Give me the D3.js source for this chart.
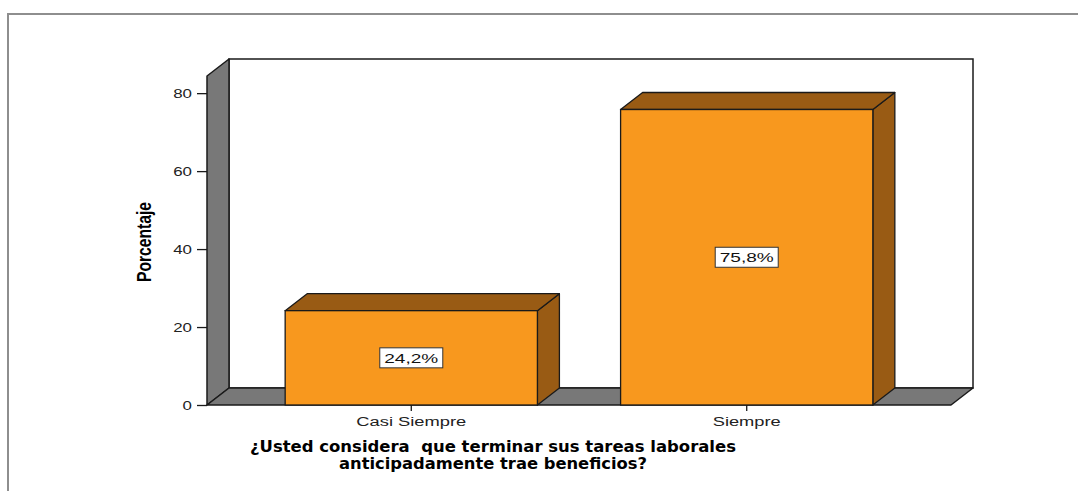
<!DOCTYPE html>
<html>
<head>
<meta charset="utf-8">
<script src="https://cdn.jsdelivr.net/npm/d3@7"></script>
<style>
  html, body { margin: 0; padding: 0; background: #fff; }
  svg { display: block; }
  .title-line { white-space: pre; }
</style>
</head>
<body>
<svg id="chart" width="1078" height="491"></svg>
<script>
// Response categories and their share of answers (%)
const categories = ["Casi Siempre", "Siempre"];
const percentages = [24.2, 75.8];
const valueLabels = ["24,2%", "75,8%"];
const yTicks = [0, 20, 40, 60, 80];
const yTitle = "Porcentaje";
const titleLines = [
  "¿Usted considera  que terminar sus tareas laborales",
  "anticipadamente trae beneficios?"
];

const svg = d3.select("#chart");

// Colours
const orange = "#F8981E";
const brown = "#995B14";
const wallGrey = "#787878";
const ink = "#1a1a1a";

// Plot geometry (front floor line and wall depth offset)
const x0 = 207, x1 = 951, yBase = 405, yTopFront = 76;
const dx = 22, dy = 17;

const y = d3.scaleLinear().domain([0, 84.4]).range([yBase, yTopFront]);
const x = d3.scaleBand()
  .domain(categories)
  .range([x0, x1])
  .paddingInner(0.248)
  .paddingOuter(0.233);

// Outer frame (top and left edges)
svg.append("path")
  .attr("d", `M8,491 L8,14 L1078,14`)
  .attr("fill", "none")
  .attr("stroke", "#8e8e8e")
  .attr("stroke-width", 2);

// Back wall
svg.append("rect")
  .attr("x", x0 + dx).attr("y", yTopFront - dy)
  .attr("width", x1 - x0).attr("height", yBase - yTopFront)
  .attr("fill", "#fff").attr("stroke", ink).attr("stroke-width", 1.5);

// Left wall
svg.append("polygon")
  .attr("points", [[x0, yBase], [x0, yTopFront], [x0 + dx, yTopFront - dy], [x0 + dx, yBase - dy]].join(" "))
  .attr("fill", wallGrey).attr("stroke", ink).attr("stroke-width", 1.5)
  .attr("stroke-linejoin", "round");

// Floor
svg.append("polygon")
  .attr("points", [[x0, yBase], [x1, yBase], [x1 + dx, yBase - dy], [x0 + dx, yBase - dy]].join(" "))
  .attr("fill", wallGrey).attr("stroke", ink).attr("stroke-width", 1.5)
  .attr("stroke-linejoin", "round");

// Bars as 3D boxes
const data = categories.map((c, i) => ({ cat: c, value: percentages[i], label: valueLabels[i] }));
const bars = svg.append("g").selectAll("g").data(data).join("g");

bars.append("polygon") // right side
  .attr("points", d => {
    const xr = x(d.cat) + x.bandwidth(), yt = y(d.value);
    return [[xr, yBase], [xr, yt], [xr + dx, yt - dy], [xr + dx, yBase - dy]].join(" ");
  })
  .attr("fill", brown).attr("stroke", ink).attr("stroke-width", 1.3).attr("stroke-linejoin", "round");

bars.append("polygon") // top
  .attr("points", d => {
    const xl = x(d.cat), xr = xl + x.bandwidth(), yt = y(d.value);
    return [[xl, yt], [xr, yt], [xr + dx, yt - dy], [xl + dx, yt - dy]].join(" ");
  })
  .attr("fill", brown).attr("stroke", ink).attr("stroke-width", 1.3).attr("stroke-linejoin", "round");

bars.append("rect") // front
  .attr("x", d => x(d.cat))
  .attr("y", d => y(d.value))
  .attr("width", x.bandwidth())
  .attr("height", d => yBase - y(d.value))
  .attr("fill", orange).attr("stroke", ink).attr("stroke-width", 1.3);

// Value labels in boxes at bar mid-height
const lbl = bars.append("g")
  .attr("transform", d => `translate(${x(d.cat) + x.bandwidth() / 2},${(y(d.value) + yBase) / 2})`);
lbl.append("rect")
  .attr("x", -31.5).attr("y", -10).attr("width", 63).attr("height", 20)
  .attr("fill", "#fff").attr("stroke", "#333").attr("stroke-width", 1);
lbl.append("text")
  .attr("text-anchor", "middle").attr("dy", "0.36em")
  .attr("font-family", "Liberation Sans, Arial, sans-serif")
  .attr("font-size", 13)
  .attr("fill", "#111")
  .attr("textLength", 54).attr("lengthAdjust", "spacingAndGlyphs")
  .text(d => d.label);

// Y axis ticks
const yAxis = svg.append("g")
  .attr("transform", `translate(${x0},0)`)
  .call(d3.axisLeft(y).tickValues(yTicks).tickSize(10).tickPadding(5));
yAxis.select(".domain").remove();
yAxis.selectAll(".tick line").attr("stroke", ink).attr("stroke-width", 1.3);
yAxis.selectAll(".tick text")
  .attr("font-family", "Liberation Sans, Arial, sans-serif")
  .attr("font-size", 12)
  .attr("fill", "#222")
  .attr("dy", "0.36em")
  .attr("textLength", d => String(d).length * 9.4)
  .attr("lengthAdjust", "spacingAndGlyphs");

// X axis ticks
const xAxis = svg.append("g")
  .attr("transform", `translate(0,${yBase})`)
  .call(d3.axisBottom(x).tickSize(6).tickPadding(0));
xAxis.select(".domain").remove();
xAxis.selectAll(".tick line").attr("stroke", ink).attr("stroke-width", 1.3);
xAxis.selectAll(".tick text")
  .attr("y", 21).attr("dy", 0)
  .attr("font-family", "Liberation Sans, Arial, sans-serif")
  .attr("font-size", 12.5)
  .attr("fill", "#222")
  .attr("textLength", d => d === "Casi Siempre" ? 110 : 68)
  .attr("lengthAdjust", "spacingAndGlyphs");

// Y axis title
svg.append("text")
  .attr("transform", "translate(151,242) rotate(-90)")
  .attr("text-anchor", "middle")
  .attr("font-family", "Liberation Sans Narrow, Arial Narrow, Liberation Sans, sans-serif")
  .attr("font-weight", "bold")
  .attr("font-size", 20)
  .attr("fill", "#000")
  .attr("textLength", 80).attr("lengthAdjust", "spacingAndGlyphs")
  .text(yTitle);

// Chart title (x-axis caption), two centred lines
const titleWidths = [486, 308];
svg.append("g").selectAll("text").data(titleLines).join("text")
  .attr("class", "title-line")
  .attr("x", 493)
  .attr("y", (d, i) => 452 + i * 17)
  .attr("text-anchor", "middle")
  .attr("font-family", "DejaVu Sans, Verdana, sans-serif")
  .attr("font-weight", "bold")
  .attr("font-size", 15.5)
  .attr("fill", "#000")
  .attr("textLength", (d, i) => titleWidths[i])
  .attr("lengthAdjust", "spacingAndGlyphs")
  .text(d => d);
</script>
</body>
</html>
